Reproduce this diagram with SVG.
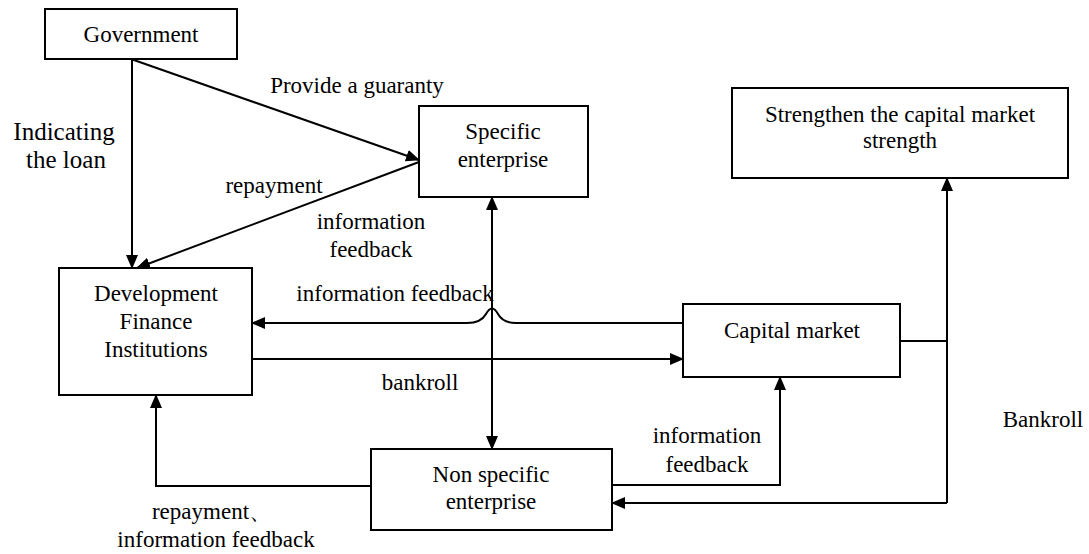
<svg xmlns="http://www.w3.org/2000/svg" width="1089" height="554" viewBox="0 0 1089 554" font-family="'Liberation Serif', 'Times New Roman', 'DejaVu Serif', serif">
<style>
.box{fill:#fff;stroke:#000;stroke-width:2}
text{font-family:'Liberation Serif','Times New Roman','DejaVu Serif',serif;font-size:23px;fill:#000;text-anchor:middle}
.big{font-size:25px}
.e{fill:none;stroke:#000;stroke-width:2}
</style>
<defs>
<marker id="ah" markerUnits="userSpaceOnUse" markerWidth="14" markerHeight="12" refX="13" refY="6" orient="auto-start-reverse">
<path d="M0,0 L14,6 L0,12 z" fill="#000"/>
</marker>
</defs>
<rect width="1089" height="554" fill="#fff"/>
<g id="connectors">
<path class="e" d="M132,59 L132,268" marker-end="url(#ah)"/>
<path class="e" d="M131,59 L419,160" marker-end="url(#ah)"/>
<path class="e" d="M419,162 L137,268" marker-end="url(#ah)"/>
<path class="e" d="M492,197 L492,449" marker-start="url(#ah)" marker-end="url(#ah)"/>
<path class="e" d="M683,323 L516,323 Q503,323 498,314 Q492,303 486,314 Q481,323 467,323 L252,323" marker-end="url(#ah)"/>
<path class="e" d="M252,359 L683,359" marker-end="url(#ah)"/>
<path class="e" d="M371,486 L156,486 L156,395" marker-end="url(#ah)"/>
<path class="e" d="M612,485 L780,485 L780,377" marker-end="url(#ah)"/>
<path class="e" d="M900,341 L947,341"/>
<path class="e" d="M947,503 L947,178" marker-end="url(#ah)"/>
<path class="e" d="M947,503 L612,503" marker-end="url(#ah)"/>
</g>
<g id="labels">
<text x="357" y="93">Provide a guaranty</text>
<text class="big" x="64" y="140">Indicating</text>
<text class="big" x="66" y="168">the loan</text>
<text x="274" y="193">repayment</text>
<text x="371" y="229">information</text>
<text x="371" y="257">feedback</text>
<text x="395" y="301">information feedback</text>
<text x="420" y="390">bankroll</text>
<text x="707" y="443">information</text>
<text x="707" y="472">feedback</text>
<text x="1043" y="427">Bankroll</text>
<text x="212" y="519">repayment、</text>
<text x="216" y="547">information feedback</text>
</g>
<g id="government">
<rect class="box" x="45" y="9" width="192" height="50"/>
<text x="141" y="42">Government</text>
</g>
<g id="specific-enterprise">
<rect class="box" x="419" y="106" width="169" height="91"/>
<text x="503" y="139">Specific</text>
<text x="503" y="167">enterprise</text>
</g>
<g id="strengthen">
<rect class="box" x="732" y="88" width="336" height="90"/>
<text x="900" y="122">Strengthen the capital market</text>
<text x="900" y="148">strength</text>
</g>
<g id="dfi">
<rect class="box" x="59" y="268" width="193" height="127"/>
<text x="156" y="301">Development</text>
<text x="156" y="329">Finance</text>
<text x="156" y="357">Institutions</text>
</g>
<g id="capital-market">
<rect class="box" x="683" y="304" width="217" height="73"/>
<text x="792" y="338">Capital market</text>
</g>
<g id="non-specific">
<rect class="box" x="371" y="449" width="241" height="81"/>
<text x="491" y="482">Non specific</text>
<text x="491" y="509">enterprise</text>
</g>
</svg>
